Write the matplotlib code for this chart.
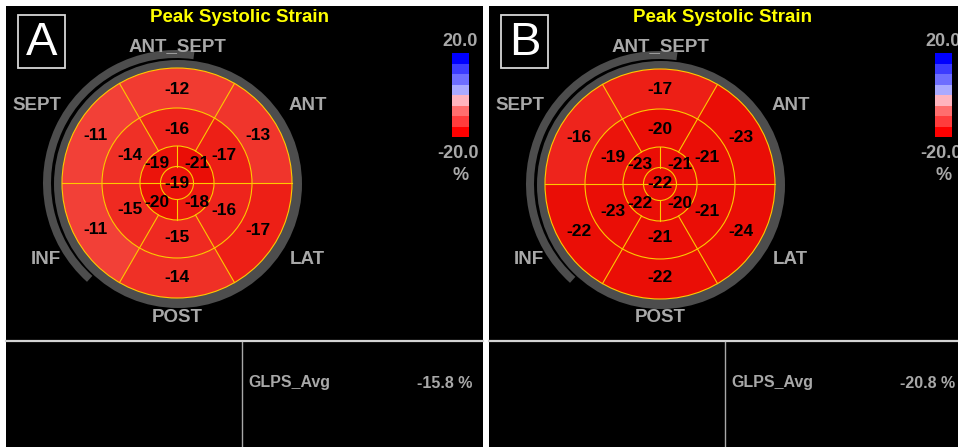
import matplotlib
matplotlib.use("Agg")
import matplotlib.pyplot as plt
from matplotlib.patches import Wedge, Circle, Rectangle
import numpy as np

plt.rcParams['font.family'] = ['Liberation Sans', 'DejaVu Sans']

# Werte der Segmente, Reihenfolge: Bildschirmwinkel gegen den Uhrzeigersinn ab 0 Grad
basal_A = [-13, -12, -11, -11, -14, -17]
mid_A = [-17, -16, -14, -15, -15, -16]
apical_A = [-21, -19, -20, -18]
apex_A = -19
glps_A = -15.8

basal_B = [-23, -17, -16, -22, -22, -24]
mid_B = [-21, -20, -19, -23, -21, -21]
apical_B = [-21, -23, -22, -20]
apex_B = -22
glps_B = -20.8

wall_labels = ["ANT_SEPT", "ANT", "LAT", "POST", "INF", "SEPT"]
title = "Peak Systolic Strain"
cbar_max = "20.0"
cbar_min = "-20.0"
cbar_unit = "%"
cbar_colors = ['#0000ff', '#3c3cff', '#6e6eff', '#aaaaff',
               '#ffb4be', '#ff6e6e', '#ff3c3c', '#ff0000']

W, H = 958, 447
fig = plt.figure(figsize=(W / 100, H / 100), dpi=100, facecolor='white')
ax = fig.add_axes([0, 0, 1, 1])
ax.set_xlim(0, W)
ax.set_ylim(H, 0)
ax.axis('off')

GRAY = '#4d4d4d'
LINE = '#ffc800'
LABEL = '#a8a8a8'


def seg_color(v):
    # lineare Mischung zwischen hellem und sattem Rot
    t = np.clip((v + 20) / 10.0, 0, 1)
    lo = np.array([234, 14, 6]) / 255
    hi = np.array([243, 70, 60]) / 255
    return tuple(lo + (hi - lo) * t)


def wedge(cx, cy, r, a, b, width, color):
    # a, b: Bildschirmwinkel (gegen Uhrzeigersinn), y-Achse ist invertiert
    ax.add_patch(Wedge((cx, cy), r, -b, -a, width=width, facecolor=color,
                       edgecolor='none'))


def draw_panel(ox, cy, basal, mid, apical, apex, glps, letter):
    cx = ox + 177
    r0, r1, r2, r3 = 16.5, 37, 75, 115

    # schwarzer Hintergrund
    ax.add_patch(Rectangle((ox + 6, 6), 477, H - 6, facecolor='black',
                           edgecolor='none'))

    # grauer Ring
    ax.add_patch(Circle((cx + 1, cy + 1), 124, facecolor=GRAY, edgecolor='none'))
    wedge(cx - 1, cy, 133, 82, 228, 8, GRAY)

    # Segmente
    for i, v in enumerate(basal):
        wedge(cx, cy, r3, 60 * i, 60 * (i + 1), r3 - r2, seg_color(v))
    for i, v in enumerate(mid):
        wedge(cx, cy, r2, 60 * i, 60 * (i + 1), r2 - r1, seg_color(v))
    for i, v in enumerate(apical):
        wedge(cx, cy, r1, 90 * i, 90 * (i + 1), r1 - r0, seg_color(v))
    ax.add_patch(Circle((cx, cy), r0, facecolor=seg_color(apex), edgecolor='none'))

    # Trennlinien
    for r in (r0, r1, r2, r3):
        ax.add_patch(Circle((cx, cy), r, facecolor='none', edgecolor=LINE, lw=0.8))
    for ang in (60, 120, 240, 300):
        t = np.radians(ang)
        ax.plot([cx + r1 * np.cos(t), cx + r3 * np.cos(t)],
                [cy - r1 * np.sin(t), cy - r3 * np.sin(t)], color=LINE, lw=0.8)
    ax.plot([cx - r3, cx + r3], [cy, cy], color=LINE, lw=0.8)
    for s in (-1, 1):
        ax.plot([cx, cx], [cy + s * r0, cy + s * r1], color=LINE, lw=0.8)

    # Zahlen
    fs = 12.5
    for i, v in enumerate(basal):
        t = np.radians(60 * i + 30)
        ax.text(cx + 94 * np.cos(t), cy - 94 * np.sin(t), str(v), fontsize=fs,
                fontweight='bold', ha='center', va='center', color='black')
    for i, v in enumerate(mid):
        t = np.radians(60 * i + 30)
        ax.text(cx + 54 * np.cos(t), cy - 54 * np.sin(t), str(v), fontsize=fs,
                fontweight='bold', ha='center', va='center', color='black')
    for i, v in enumerate(apical):
        t = np.radians(90 * i + 45)
        ax.text(cx + 28 * np.cos(t), cy - 28 * np.sin(t), str(v), fontsize=fs,
                fontweight='bold', ha='center', va='center', color='black')
    ax.text(cx, cy, str(apex), fontsize=fs, fontweight='bold', ha='center',
            va='center', color='black')

    # Wandbezeichnungen
    pos = [(cx, 47), (ox + 308, 105), (ox + 307, 260), (cx, 318),
           (ox + 46, 260), (ox + 37, 105)]
    for lab, (x, y) in zip(wall_labels, pos):
        ax.text(x, y, lab, fontsize=13.5, fontweight='bold', ha='center',
                va='center', color=LABEL)

    # Titel und Buchstabe
    ax.text(ox + 240, 18, title, fontsize=13.5, fontweight='bold', ha='center',
            va='center', color='#ffff00')
    ax.add_patch(Rectangle((ox + 18, 15), 47, 53, facecolor='none',
                           edgecolor='#d8d8d8', lw=1.3))
    ax.text(ox + 41.5, 43, letter, fontsize=34, ha='center', va='center',
            color='white')

    # Farbskala
    bx, by, bw, bh = ox + 452, 53, 17, 84
    step = bh / len(cbar_colors)
    for k, c in enumerate(cbar_colors):
        ax.add_patch(Rectangle((bx, by + k * step), bw, step + 0.3, facecolor=c,
                               edgecolor='none'))
    ax.text(bx + bw / 2, 42, cbar_max, fontsize=13, fontweight='bold',
            ha='center', va='center', color=LABEL)
    ax.text(bx + bw / 2 - 2, 153, cbar_min, fontsize=13, fontweight='bold',
            ha='center', va='center', color=LABEL)
    ax.text(bx + bw / 2, 176, cbar_unit, fontsize=13, fontweight='bold',
            ha='center', va='center', color=LABEL)

    # unterer Bereich
    ax.plot([ox + 6, ox + 483], [341, 341], color='#d4d4d4', lw=1.6)
    ax.plot([ox + 242, ox + 242], [342, H], color='#a8a8a8', lw=1)
    ax.text(ox + 248, 383, "GLPS_Avg", fontsize=11.5, fontweight='bold',
            ha='left', va='center', color=LABEL)
    ax.text(ox + 472, 383, f"{glps:.1f} %", fontsize=11.5, fontweight='bold',
            ha='right', va='center', color=LABEL)


draw_panel(0, 183, basal_A, mid_A, apical_A, apex_A, glps_A, "A")
draw_panel(483, 184, basal_B, mid_B, apical_B, apex_B, glps_B, "B")

fig.savefig("out.png", dpi=100, facecolor='white')
